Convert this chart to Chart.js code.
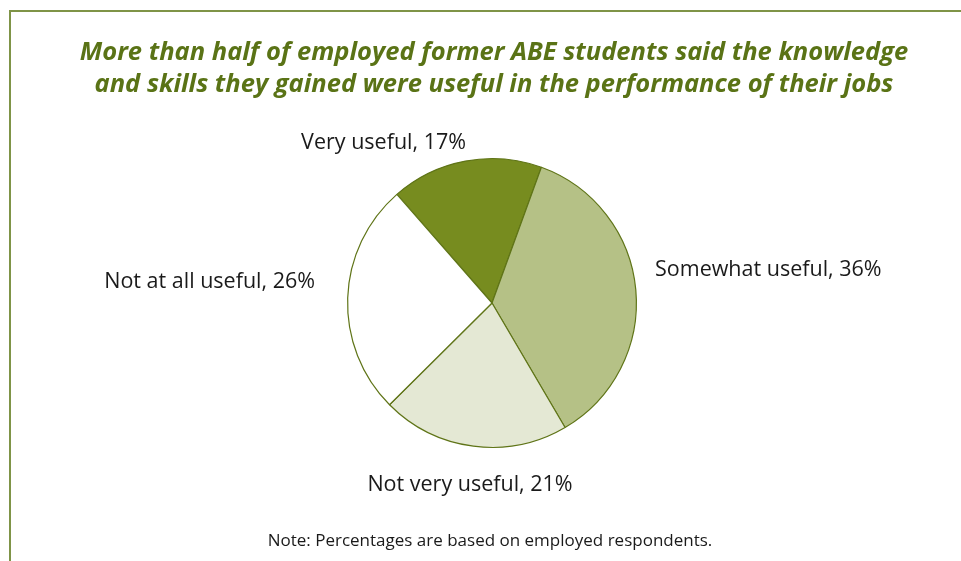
<!DOCTYPE html>
<html>
<head>
<meta charset="utf-8">
<script src="https://cdn.jsdelivr.net/npm/chart.js@4.4.1/dist/chart.umd.min.js"></script>
<style>
  html, body { margin: 0; padding: 0; background: #ffffff; }
  #wrap { position: relative; width: 961px; height: 561px; }
</style>
</head>
<body>
<div id="wrap"><canvas id="usefulPie"></canvas></div>
<script>
const categories = ["Very useful", "Somewhat useful", "Not very useful", "Not at all useful"];
const shares = [17, 36, 21, 26];
const sliceColors = ["#778c1f", "#b5c186", "#e4e8d4", "#ffffff"];

const titleLines = [
  "More than half of employed former ABE students said the knowledge",
  "and skills they gained were useful in the performance of their jobs"
];
const noteText = "Note: Percentages are based on employed respondents.";

// where each slice label sits, and how it is aligned
const labelSpots = [
  { x: 466, y: 143, align: "right" },
  { x: 655, y: 270, align: "left" },
  { x: 470, y: 485, align: "center" },
  { x: 315, y: 282, align: "right" }
];

const decorations = {
  id: "decorations",
  afterDraw(chart) {
    const c = chart.ctx;
    c.save();

    // frame: top and left rules
    c.strokeStyle = "#7f9447";
    c.lineWidth = 2;
    c.beginPath();
    c.moveTo(10, 561);
    c.lineTo(10, 11);
    c.lineTo(961, 11);
    c.stroke();

    // heading
    c.fillStyle = "#5a7316";
    c.textAlign = "center";
    c.textBaseline = "middle";
    c.font = "italic 700 25.5px 'Open Sans'";
    titleLines.forEach((line, i) => c.fillText(line, 494, 53 + i * 32));

    // slice labels
    c.fillStyle = "#1a1a1a";
    c.font = "21.5px 'Open Sans'";
    categories.forEach((name, i) => {
      const spot = labelSpots[i];
      c.textAlign = spot.align;
      c.fillText(`${name}, ${shares[i]}%`, spot.x, spot.y);
    });

    // footnote
    c.textAlign = "center";
    c.font = "17px 'Open Sans'";
    c.fillText(noteText, 490, 541);

    c.restore();
  }
};

new Chart(document.getElementById("usefulPie"), {
  type: "pie",
  data: {
    labels: categories,
    datasets: [{
      data: shares,
      backgroundColor: sliceColors,
      borderColor: "#5f7417",
      borderWidth: 1.2
    }]
  },
  options: {
    responsive: true,
    maintainAspectRatio: false,
    animation: false,
    rotation: -41.2,
    layout: { padding: { top: 158, bottom: 113, left: 347, right: 324 } },
    plugins: {
      legend: { display: false },
      tooltip: { enabled: false }
    }
  },
  plugins: [decorations]
});
</script>
</body>
</html>
